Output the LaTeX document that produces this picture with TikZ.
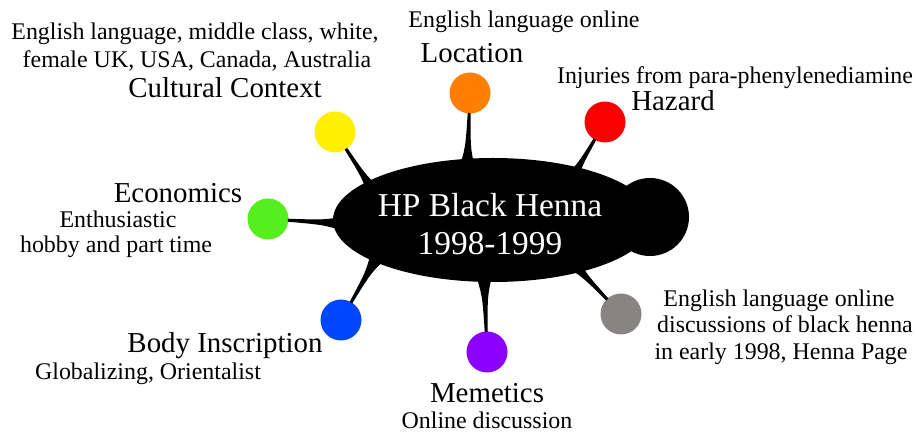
\documentclass[tikz,border=0pt]{standalone}
\usepackage{fontspec}
\setmainfont{Liberation Serif}
\usetikzlibrary{shapes.geometric,calc}
\definecolor{cyellow}{RGB}{255,240,0}
\definecolor{corange}{RGB}{255,128,0}
\definecolor{cred}{RGB}{250,0,0}
\definecolor{cgreen}{RGB}{85,238,30}
\definecolor{cblue}{RGB}{0,70,255}
\definecolor{cpurple}{RGB}{140,0,255}
\definecolor{cgray}{RGB}{136,132,132}
\tikzset{
  dot/.style={circle,minimum size=41bp,inner sep=0pt,draw=none},
  small/.style={anchor=base,inner sep=0pt,font=\fontsize{24}{29}\selectfont},
  title/.style={anchor=base,inner sep=0pt,font=\fontsize{29}{34}\selectfont},
  hubtext/.style={anchor=base,inner sep=0pt,text=white,font=\fontsize{33.5}{38}\selectfont},
}
\newcommand{\myspoke}[2]{%
  \path ($(#1)!20bp!(#2)$) coordinate (s) ($(s)!0.6!(#2)$) coordinate (m);
  \fill[black] ($(s)!1.5bp!90:(#2)$) .. controls ($(m)!2.5bp!90:(#2)$) .. ($(#2)!9bp!-90:(s)$)
     -- ($(#2)!9bp!90:(s)$) .. controls ($(m)!2.5bp!-90:(#2)$) .. ($(s)!1.5bp!-90:(#2)$) -- cycle;}
\begin{document}
\begin{tikzpicture}[x=1bp,y=-1bp]
\useasboundingbox (0,0) rectangle (916,434);
% colored circles
\node[dot,fill=cyellow] (cul) at (335,132) {};
\node[dot,fill=corange] (loc) at (470,93) {};
\node[dot,fill=cred] (haz) at (605,122) {};
\node[dot,fill=cgreen] (eco) at (268,219) {};
\node[dot,fill=cblue] (bod) at (341,320) {};
\node[dot,fill=cpurple] (mem) at (487,352) {};
\node[dot,fill=cgray] (eng) at (621,314) {};
% spoke targets (inside the hub)
\coordinate (tcul) at (378,198);
\coordinate (tloc) at (467,172);
\coordinate (thaz) at (568,185);
\coordinate (teco) at (350,224);
\coordinate (tbod) at (380,252);
\coordinate (tmem) at (484,272);
\coordinate (teng) at (568,258);
\myspoke{cul}{tcul}
\myspoke{loc}{tloc}
\myspoke{haz}{thaz}
\myspoke{eco}{teco}
\myspoke{bod}{tbod}
\myspoke{mem}{tmem}
\myspoke{eng}{teng}
% hub
\node[ellipse,fill=black,minimum width=320bp,minimum height=124bp,inner sep=0pt] (hub) at (493,220) {};
\node[circle,fill=black,minimum size=78bp,inner sep=0pt] (bump) at (650,217) {};
\node[hubtext] (h1) at (490,217) {HP Black Henna};
\node[hubtext] (h2) at (490,255) {1998-1999};
% labels
\node[small] (cul1) at (195,40) {English language, middle class, white,};
\node[small] (cul2) at (197,68) {female UK, USA, Canada, Australia};
\node[title] (cult) at (225,98) {Cultural Context};
\node[small] (loc1) at (524,28) {English language online};
\node[title] (loct) at (472,63) {Location};
\node[small,text depth=0pt] (haz1) at (735,84) {Injuries from para-phenylenediamine};
\node[title,text height=20bp] (hazt) at (673,111) {Hazard};
\node[title] (ecot) at (178,203) {Economics};
\node[small] (eco1) at (118,228) {Enthusiastic};
\node[small] (eco2) at (116,253) {hobby and part time};
\node[title] (bodt) at (225,353) {Body Inscription};
\node[small] (bod1) at (148,380) {Globalizing, Orientalist};
\node[title] (memt) at (487,402) {Memetics};
\node[small] (mem1) at (487,428) {Online discussion};
\node[small] (eng1) at (779,307) {English language online};
\node[small] (eng2) at (785,333) {discussions of black henna};
\node[small] (eng3) at (781,360) {in early 1998, Henna Page};
\end{tikzpicture}
\end{document}
